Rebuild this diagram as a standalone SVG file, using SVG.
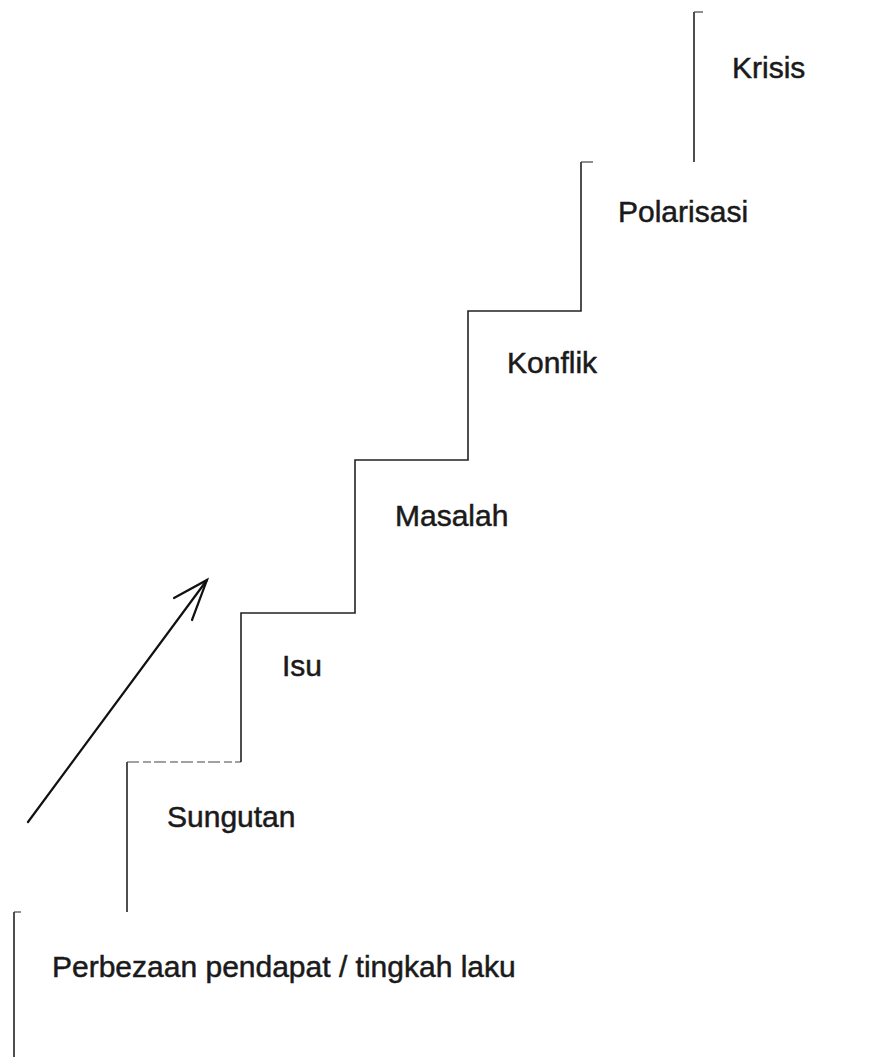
<svg xmlns="http://www.w3.org/2000/svg" width="879" height="1057" viewBox="0 0 879 1057">
<style>
.step{fill:none;stroke:#222;stroke-width:1.6}
.faint{fill:none;stroke:#444;stroke-width:1.2;stroke-dasharray:12 4 8 3}
.arrow{fill:none;stroke:#111;stroke-width:2.2;stroke-linecap:round}
.lbl{font-family:"Liberation Sans",Arial,sans-serif;font-size:30px;fill:#1a1a1a;stroke:#1a1a1a;stroke-width:0.5}
</style>
<rect width="879" height="1057" fill="#fff"/>
<g id="connectors">
<g id="stairs">
<path class="step" d="M14,1057 V912"/>
<path class="faint" d="M14,912 H21"/>
<path class="step" d="M127,912 V762"/>
<path class="faint" d="M127,762 H241"/>
<path class="step" d="M241,762 V613 H355 V460 H468 V311 H581 V162"/>
<path class="faint" d="M581,162 H595"/>
<path class="step" d="M694,162 V12"/>
<path class="faint" d="M694,12 H703"/>
</g>
<g id="arrow">
<path class="arrow" d="M28,822 L207,580"/>
<path class="arrow" d="M174,598 L207,580 L192,620"/>
</g>
</g>
<g id="node-perbezaan"><text class="lbl" x="52" y="977">Perbezaan pendapat / tingkah laku</text></g>
<g id="node-sungutan"><text class="lbl" x="167" y="827">Sungutan</text></g>
<g id="node-isu"><text class="lbl" x="282" y="676">Isu</text></g>
<g id="node-masalah"><text class="lbl" x="395" y="526">Masalah</text></g>
<g id="node-konflik"><text class="lbl" x="507" y="373">Konflik</text></g>
<g id="node-polarisasi"><text class="lbl" x="618" y="222">Polarisasi</text></g>
<g id="node-krisis"><text class="lbl" x="732" y="78">Krisis</text></g>
</svg>
